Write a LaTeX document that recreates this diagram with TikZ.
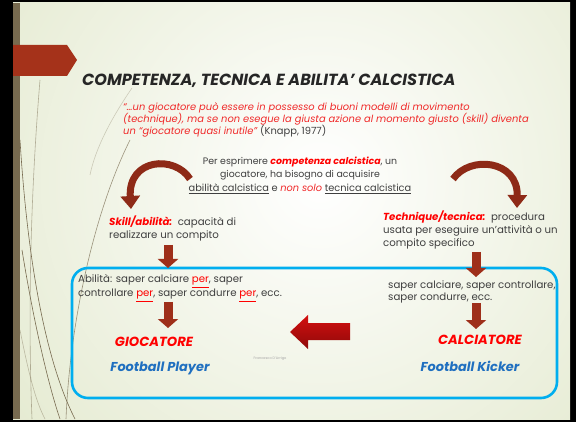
\documentclass[tikz,border=0pt]{standalone}
\usepackage{fontspec}
\setmainfont{Poppins}
\usetikzlibrary{arrows.meta,positioning}

\definecolor{slidebg}{HTML}{DAE2BE}
\definecolor{stripbrown}{HTML}{776A4F}
\definecolor{tabred}{HTML}{A5321A}
\definecolor{titlegray}{HTML}{262626}
\definecolor{textgray}{HTML}{3F3F3F}
\definecolor{quotered}{HTML}{F02828}
\definecolor{arrowbrown}{HTML}{9E2F1A}
\definecolor{boxblue}{HTML}{00AEEF}
\definecolor{kickblue}{HTML}{1F6FC0}
\definecolor{bigred}{HTML}{D40F0F}
\definecolor{bigdark}{HTML}{8E0A0A}

\begin{document}
\begin{tikzpicture}[x=1pt,y=-1pt]
  \tikzset{txt/.style={anchor=base west, inner sep=0pt, text=textgray,
      font=\fontsize{10.2}{12}\selectfont}}
  \tikzset{ctxt/.style={txt, anchor=base, font=\fontsize{9.4}{11}\selectfont}}
  \tikzset{quote/.style={txt, text=quotered, font=\fontsize{9.9}{12}\selectfont\itshape}}
  \tikzset{role/.style={anchor=base, inner sep=0pt, text=red,
      font=\fontsize{13.2}{15}\selectfont\bfseries\itshape}}
  \tikzset{eng/.style={role, text=kickblue, font=\fontsize{12.9}{15}\selectfont\bfseries\itshape}}
  \tikzset{blockarrow/.style={arrowbrown, line width=9pt,
      -{Triangle[width=20pt, length=9pt]}}}
  \tikzset{curvearrow/.style={arrowbrown!90!black, line width=7pt,
      -{Triangle[width=19pt, length=13pt]}}}
  \tikzset{swirl/.style={stripbrown, line width=0.6pt}}

  % slide
  \fill[black] (0,0) rectangle (576,422);
  \begin{scope}
    \clip (13,3) rectangle (570,419);
    \shade[inner color=white, outer color=slidebg] (320,180) circle (560);
    \draw[swirl] (20,140) .. controls (30,300) and (55,380) .. (75,419);
    \draw[swirl] (22,250) .. controls (35,330) and (50,390) .. (60,419);
    \draw[swirl, opacity=.5] (40,80) .. controls (30,200) and (28,320) .. (32,419);
    \draw[swirl, opacity=.7] (130,140) .. controls (95,210) and (70,320) .. (66,419);
    \draw[swirl, opacity=.3] (132,88) .. controls (110,120) and (95,150) .. (90,175);
    \draw[swirl, opacity=.4] (20,330) .. controls (28,370) and (35,400) .. (45,419);
  \end{scope}
  \fill[stripbrown] (13,3) rectangle (20,419);
  \fill[tabred] (13,45) -- (67,45) -- (77,60) -- (67,76) -- (13,76) -- cycle;

  % title and quote
  \node[anchor=base west, inner sep=0pt, text=titlegray,
    font=\fontsize{16.1}{19}\selectfont\bfseries\itshape] (title) at (82,86)
    {COMPETENZA, TECNICA E ABILITA' CALCISTICA};
  \node[quote] (q1) at (123,111)
    {``\dots un giocatore può essere in possesso di buoni modelli di movimento};
  \node[quote] (q2) at (123,123)
    {(technique), ma se non esegue la giusta azione al momento giusto (skill) diventa};
  \node[quote] (q3) at (123,135)
    {un ``giocatore quasi inutile''\ {\upshape\color{textgray}(Knapp, 1977)}};

  % central statement
  \node[ctxt] (p1) at (300,165)
    {Per esprimere {\color{red}\bfseries\itshape competenza calcistica}, un};
  \node[ctxt] (p2) at (300,178) {giocatore, ha bisogno di acquisire};
  \node[ctxt, font=\fontsize{9.8}{11}\selectfont] (p3) at (300,192)
    {\underline{abilità calcistica} e {\color{quotered}\itshape non solo}
     \underline{tecnica calcistica}};

  % skill / technique
  \node[txt] (sk1) at (109,226)
    {{\color{red}\bfseries\itshape Skill/abilità:}\ \ capacità di};
  \node[txt] (sk2) at (109,239) {realizzare un compito};
  \node[txt] (te1) at (383,221)
    {{\color{red}\bfseries\itshape Technique/tecnica:}\ \ procedura};
  \node[txt] (te2) at (383,234) {usata per eseguire un'attività o un};
  \node[txt] (te3) at (383,247) {compito specifico};

  % blue frame
  \draw[boxblue, line width=2.6pt, rounded corners=16pt] (72,268) rectangle (557,398);

  \node[txt] (ab1) at (78,283)
    {Abilità: saper calciare {\color{red}\underline{per}}, saper};
  \node[txt] (ab2) at (78,297)
    {controllare {\color{red}\underline{per}}, saper condurre {\color{red}\underline{per}}, ecc.};
  \node[txt] (sa1) at (388,288)
    {saper calciare, saper controllare,};
  \node[txt] (sa2) at (388,301)
    {saper condurre, ecc.};

  \node[role] (gioc) at (154,346) {GIOCATORE};
  \node[eng] (player) at (160,371) {Football Player};
  \node[role] (calc) at (480,344) {CALCIATORE};
  \node[eng] (kicker) at (470,371) {Football Kicker};
  \node[anchor=base, inner sep=0pt, text=gray!70, font=\fontsize{3.5}{4}\selectfont]
    (author) at (270,359) {Francesco D'Arrigo};

  % arrows
  \coordinate (ltail) at (190,179);
  \coordinate (lhead) at (131,209);
  \coordinate (rtail) at (453,179);
  \coordinate (rhead) at (517,208);
  \draw[curvearrow] (ltail) .. controls (175,155) and (128,158) .. (lhead);
  \draw[curvearrow] (rtail) .. controls (470,155) and (518,160) .. (rhead);

  \coordinate (la) at (168,245);
  \coordinate (lb) at (168,268);
  \coordinate (lc) at (168,302);
  \coordinate (ld) at (168,328);
  \coordinate (ra) at (476,252);
  \coordinate (rb) at (476,277);
  \coordinate (rc) at (476,303);
  \coordinate (rd) at (476,329);
  \draw[blockarrow] (la) -- (lb);
  \draw[blockarrow] (lc) -- (ld);
  \draw[blockarrow] (ra) -- (rb);
  \draw[blockarrow] (rc) -- (rd);

  \shade[top color=bigred, bottom color=bigdark]
    (350,323) -- (308,323) -- (308,315) -- (290,332) -- (308,349)
    -- (308,340) -- (350,340) -- cycle;
\end{tikzpicture}
\end{document}
